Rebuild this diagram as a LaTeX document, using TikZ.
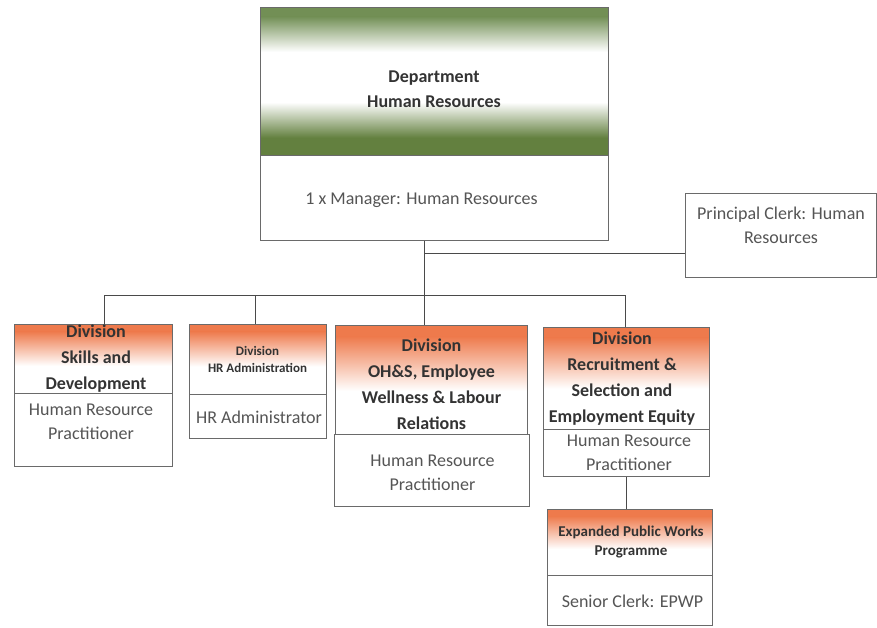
\documentclass[tikz,border=0pt]{standalone}
\usepackage{fontspec}
\setmainfont{Carlito}
\usetikzlibrary{calc}
\definecolor{org}{HTML}{EE7A4C}
\definecolor{grn}{HTML}{728F55}
\definecolor{grnD}{HTML}{63803F}
\definecolor{boxline}{HTML}{6A6A6A}
\definecolor{conn}{HTML}{4A4A4A}
\definecolor{headtxt}{HTML}{333333}
\definecolor{bodytxt}{HTML}{555555}
\tikzset{
  box/.style={draw=boxline, line width=1pt, anchor=north west, inner sep=0pt, fill=white},
  divhead/.style={box, path picture={
    \fill[org] (path picture bounding box.north west) rectangle ($(path picture bounding box.north east)!0.1!(path picture bounding box.south east)$);
    \shade[top color=org, bottom color=white] ($(path picture bounding box.north west)!0.1!(path picture bounding box.south west)$) rectangle ($(path picture bounding box.north east)!0.6!(path picture bounding box.south east)$);}},
  depthead/.style={box, path picture={
    \fill[grn] (path picture bounding box.north west) rectangle ($(path picture bounding box.north east)!0.06!(path picture bounding box.south east)$);
    \shade[top color=grn, bottom color=white] ($(path picture bounding box.north west)!0.06!(path picture bounding box.south west)$) rectangle ($(path picture bounding box.north east)!0.3!(path picture bounding box.south east)$);
    \shade[top color=white, bottom color=grnD] ($(path picture bounding box.north west)!0.64!(path picture bounding box.south west)$) rectangle ($(path picture bounding box.north east)!0.88!(path picture bounding box.south east)$);
    \fill[grnD] ($(path picture bounding box.north west)!0.88!(path picture bounding box.south west)$) rectangle (path picture bounding box.south east);}},
  headtext/.style={inner sep=0pt, align=center, text=headtxt, font=\fontsize{18}{26}\selectfont\bfseries},
  smallhead/.style={headtext, font=\fontsize{13}{17}\selectfont\bfseries},
  epwphead/.style={headtext, font=\fontsize{15}{19}\selectfont\bfseries},
  bodytext/.style={inner sep=0pt, align=center, text=bodytxt, font=\fontsize{18}{24}\selectfont},
  conn/.style={draw=conn, line width=1pt}
}
\begin{document}
\begin{tikzpicture}[x=1pt,y=-1pt]
\useasboundingbox[fill=white] (0,0) rectangle (877,628);
% department
\node[depthead, minimum width=348pt, minimum height=148pt] (dept) at (260,7) {};
\node[box, minimum width=348pt, minimum height=85pt] (mgr) at (260,155) {};
\node[box, minimum width=191pt, minimum height=84pt] (pc) at (685,193) {};
% divisions
\node[divhead, minimum width=158pt, minimum height=69pt] (skH) at (14,324) {};
\node[box, minimum width=158pt, minimum height=73pt] (skL) at (14,393) {};
\node[divhead, minimum width=137pt, minimum height=70pt] (haH) at (189,324) {};
\node[box, minimum width=137pt, minimum height=44pt] (haL) at (189,394) {};
\node[divhead, minimum width=192pt, minimum height=109pt] (ohH) at (335,325) {};
\node[box, minimum width=195pt, minimum height=72pt] (ohL) at (334,434) {};
\node[divhead, minimum width=166pt, minimum height=102pt] (rcH) at (543,327) {};
\node[box, minimum width=166pt, minimum height=47pt] (rcL) at (543,429) {};
\node[divhead, minimum width=165pt, minimum height=66pt] (epH) at (547,509) {};
\node[box, minimum width=165pt, minimum height=50pt] (epL) at (547,575) {};
% texts
\node[headtext, font=\fontsize{18}{25}\selectfont\bfseries] (deptT) at (434,89.5) {Department\\Human Resources};
\node[bodytext] (mgrT) at (421.5,200) {1 x Manager: Human Resources};
\node[bodytext] (pcT) at (781,225) {Principal Clerk: Human\\Resources};
\node[headtext] (skT) at (96,359) {Division\\Skills and\\Development};
\node[bodytext] (skLT) at (91,422) {Human Resource\\Practitioner};
\node[smallhead] (haT) at (257.5,359) {Division\\HR Administration};
\node[bodytext] (haLT) at (259,417) {HR Administrator};
\node[headtext] (ohT) at (431.5,384) {Division\\OH\&S, Employee\\Wellness \& Labour\\Relations};
\node[bodytext] (ohLT) at (432.5,472.5) {Human Resource\\Practitioner};
\node[headtext] (rcT) at (622,379) {Division\\Recruitment \&\\Selection and\\Employment Equity};
\node[bodytext] (rcLT) at (629,452.5) {Human Resource\\Practitioner};
\node[epwphead] (epT) at (631,542.5) {Expanded Public Works\\Programme};
\node[bodytext] (epLT) at (632.5,601) {Senior Clerk: EPWP};
% connectors
\coordinate (pj) at (424,253);
\coordinate (busC) at (424,295);
\coordinate (busL) at (104,295);
\coordinate (busR) at (625,295);
\draw[conn] (busC |- mgr.south) -- (busC |- ohH.north);
\draw[conn] (pj) -- (pc.west |- pj);
\draw[conn] (skH.north -| busL) -- (busL) -- (busR) -- (rcH.north -| busR);
\draw[conn] (haH.north -| 255,0) -- (255,295);
\draw[conn] (rcL.south -| 626,0) -- (epH.north -| 626,0);
\end{tikzpicture}
\end{document}
